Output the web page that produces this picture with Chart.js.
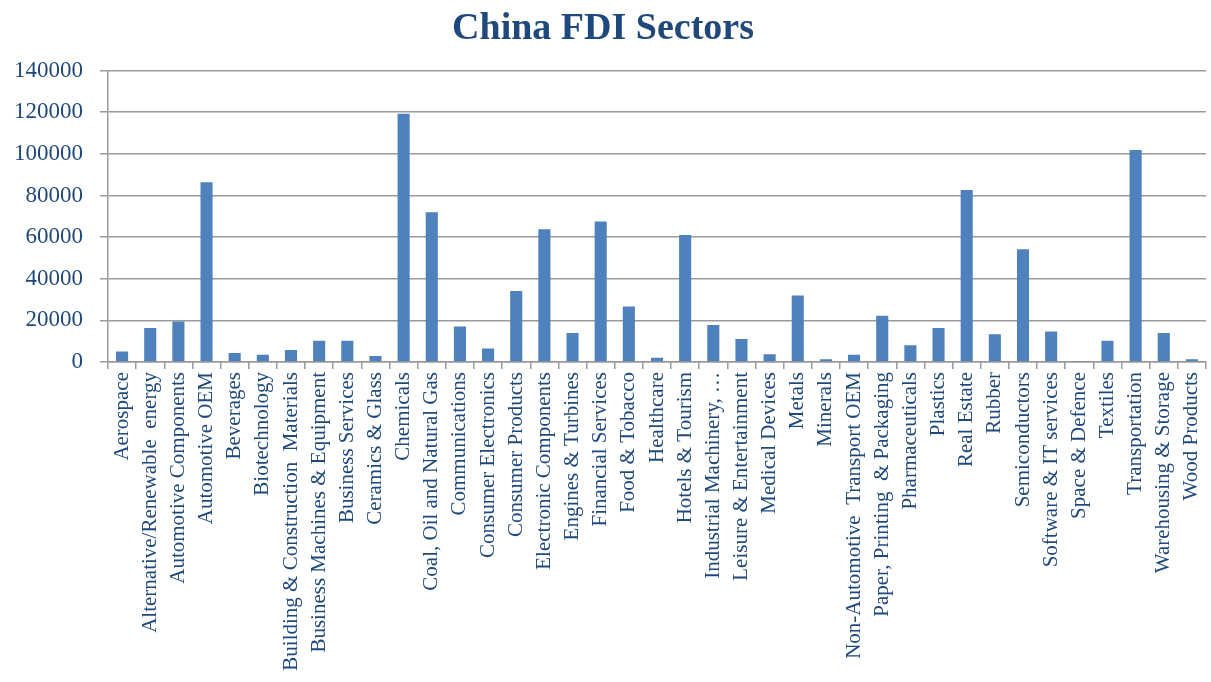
<!DOCTYPE html>
<html>
<head>
<meta charset="utf-8">
<title>China FDI Sectors</title>
<script src="https://cdn.jsdelivr.net/npm/chart.js@4/dist/chart.umd.min.js"></script>
<style>
  html, body { margin: 0; padding: 0; background: #fff; }
  #wrap { width: 1211px; height: 682px; }
</style>
</head>
<body>
<div id="wrap"><canvas id="fdi"></canvas></div>
<script>
// sectors along the x axis
const sectors = [
  'Aerospace', 'Alternative/Renewable  energy', 'Automotive Components', 'Automotive OEM',
  'Beverages', 'Biotechnology', 'Building & Construction  Materials', 'Business Machines & Equipment',
  'Business Services', 'Ceramics & Glass', 'Chemicals', 'Coal, Oil and Natural Gas',
  'Communications', 'Consumer Electronics', 'Consumer Products', 'Electronic Components',
  'Engines & Turbines', 'Financial Services', 'Food & Tobacco', 'Healthcare',
  'Hotels & Tourism', 'Industrial Machinery, …', 'Leisure & Entertainment', 'Medical Devices',
  'Metals', 'Minerals', 'Non-Automotive  Transport OEM', 'Paper, Printing  & Packaging',
  'Pharmaceuticals', 'Plastics', 'Real Estate', 'Rubber',
  'Semiconductors', 'Software & IT services', 'Space & Defence', 'Textiles',
  'Transportation', 'Warehousing & Storage', 'Wood Products'
];

// investment per sector
const investment = [
  5100, 16300, 19500, 86300,
  4300, 3500, 5800, 10200,
  10200, 2900, 119300, 72000,
  17000, 6500, 34100, 63800,
  13900, 67500, 26700, 2100,
  61000, 17800, 11000, 3700,
  32000, 1300, 3500, 22200,
  8000, 16300, 82600, 13300,
  54200, 14700, 500, 10200,
  101900, 13900, 1300
];

const yTicks = { min: 0, max: 140000, step: 20000 };

const textBlue = '#1F497D';
const gridGray = '#9a9a9a';
const serif = '"Liberation Serif", "DejaVu Serif", serif';

new Chart(document.getElementById('fdi'), {
  type: 'bar',
  data: {
    labels: sectors,
    datasets: [{
      data: investment,
      backgroundColor: '#4F81BD',
      borderWidth: 0,
      barPercentage: 0.43,
      categoryPercentage: 1
    }]
  },
  options: {
    responsive: true,
    maintainAspectRatio: false,
    animation: false,
    layout: { padding: { left: 0, right: 5, top: 0, bottom: 0 } },
    plugins: {
      legend: { display: false },
      tooltip: { enabled: false },
      title: {
        display: true,
        text: 'China FDI Sectors',
        color: textBlue,
        font: { family: serif, size: 38, weight: 'bold', lineHeight: 1.2 },
        padding: { top: 6, bottom: 19 }
      }
    },
    scales: {
      x: {
        offset: true,
        grid: { display: true, drawOnChartArea: false, drawTicks: true, tickLength: 7, color: gridGray, lineWidth: 1.5, offset: true },
        border: { display: true, color: gridGray, width: 1.5 },
        ticks: {
          autoSkip: false, minRotation: 90, maxRotation: 90, padding: 3,
          color: textBlue, font: { family: serif, size: 21 }
        },
        afterFit(scale) {
          scale.height = 320;
          // rotated labels need no side room here
          scale.paddingLeft = 0;
          scale.paddingRight = 0;
        }
      },
      y: {
        min: yTicks.min,
        max: yTicks.max,
        grid: { color: gridGray, lineWidth: 1.5, tickLength: 8 },
        border: { display: true, color: gridGray, width: 1.5 },
        ticks: {
          stepSize: yTicks.step, padding: 17,
          color: textBlue, font: { family: serif, size: 23 },
          callback: v => String(v)
        },
        afterFit(scale) { scale.width = 108; }
      }
    }
  }
});
</script>
</body>
</html>
